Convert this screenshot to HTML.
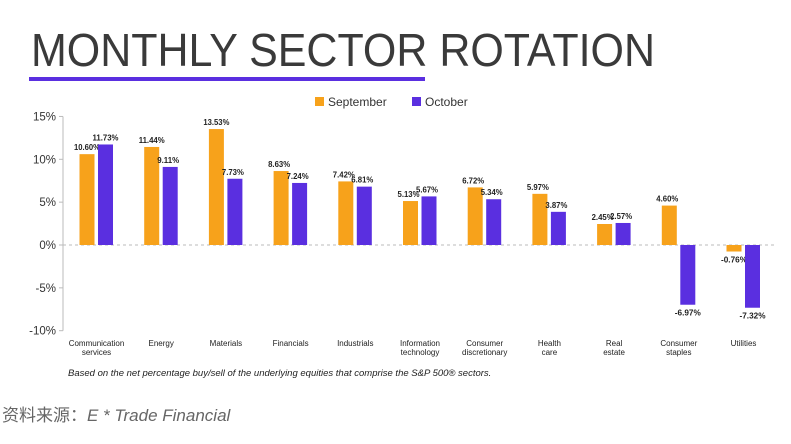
<!DOCTYPE html>
<html><head><meta charset="utf-8"><style>
body{margin:0;background:#fff;width:791px;height:444px;overflow:hidden}
svg{display:block;font-family:"Liberation Sans",sans-serif}
</style></head><body>
<svg id="chart" width="791" height="444">
<text x="31" y="66" font-size="46" textLength="624" lengthAdjust="spacingAndGlyphs" fill="#3a3a3a">MONTHLY SECTOR ROTATION</text>
<rect x="29" y="77" width="396" height="4" fill="#5a2fe0"/>
<g>
<rect x="315" y="97" width="9" height="9" fill="#f7a21b"/>
<text x="328" y="106" font-size="12" fill="#333">September</text>
<rect x="412" y="97" width="9" height="9" fill="#5a2fe0"/>
<text x="425" y="106" font-size="12" fill="#333">October</text>
</g>
<g id="plot"></g>
<text x="68" y="376" font-size="9.5" font-style="italic" fill="#222">Based on the net percentage buy/sell of the underlying equities that comprise the S&amp;P 500® sectors.</text>
<text x="2" y="421" font-size="17" fill="#666" style="font-family:'Liberation Sans','Noto Sans CJK SC',sans-serif">资料来源：<tspan font-style="italic">E * Trade Financial</tspan></text>
</svg>
<script>
const categories=[["Communication","services"],["Energy"],["Materials"],["Financials"],["Industrials"],["Information","technology"],["Consumer","discretionary"],["Health","care"],["Real","estate"],["Consumer","staples"],["Utilities"]];
const september=[10.60,11.44,13.53,8.63,7.42,5.13,6.72,5.97,2.45,4.60,-0.76];
const october=[11.73,9.11,7.73,7.24,6.81,5.67,5.34,3.87,2.57,-6.97,-7.32];
const yTicks=[15,10,5,0,-5,-10];
const NS="http://www.w3.org/2000/svg";
const g=document.getElementById('plot');
const y=v=>245-v*8.57;
const xc=i=>96.5+i*64.7;
function mk(t,a,p){const e=document.createElementNS(NS,t);for(const k in a)e.setAttribute(k,a[k]);(p||g).appendChild(e);return e;}
const ax=mk('line',{x1:63,x2:63,y1:y(15),y2:y(-10),stroke:'#bbb','stroke-width':1});


yTicks.forEach(v=>{
 const tk=mk('line',{x1:59,x2:63,y1:y(v),y2:y(v),stroke:'#bbb'});
 
 
 const t=mk('text',{x:56,y:y(v)+4,'text-anchor':'end','font-size':11.5,fill:'#333'});
 t.textContent=v+'%';
 
 
});
const zl=mk('line',{x1:63,x2:775,y1:y(0),y2:y(0),stroke:'#bbb','stroke-dasharray':'3,3'});


function bar(i,v,off,col,name){
 const x=xc(i)+off;
 const r=mk('rect',{x:x,y:Math.min(y(v),y(0)),width:15,height:Math.abs(y(v)-y(0)),fill:col});
 
 
 const lbl=v.toFixed(2)+'%';
 const t=mk('text',{x:x+7.5-13,y:v>=0?y(v)-4:y(v)+11,'font-size':8.5,'font-weight':'bold',fill:'#222',textLength:(lbl.length>5?26:22),lengthAdjust:'spacingAndGlyphs'});
 t.textContent=lbl;
 
 
}
categories.forEach((c,i)=>{
 bar(i,september[i],-17,'#f7a21b','bar-september');
 bar(i,october[i],1.5,'#5a2fe0','bar-october');
 c.forEach((l,j)=>{
  const t=mk('text',{x:xc(i),y:346+j*9,'text-anchor':'middle','font-size':8,fill:'#222'});
  t.textContent=l;
  
  
 });
});
</script>
</body></html>
